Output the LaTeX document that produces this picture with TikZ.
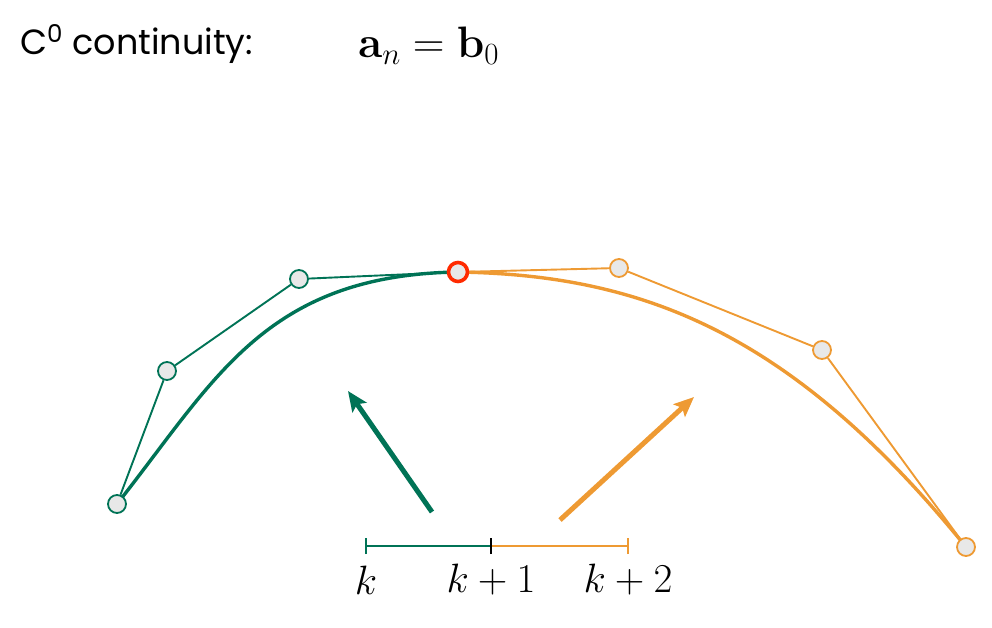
\RequirePackage{fix-cm}
\documentclass[tikz,border=0pt]{standalone}
\usepackage{amsmath}
\usepackage[no-math]{fontspec}
\setmainfont{Poppins}
\usetikzlibrary{arrows.meta,backgrounds}
\definecolor{sgrn}{HTML}{007356}
\definecolor{sorg}{HTML}{EE9A33}
\definecolor{sred}{HTML}{FF2A00}
\tikzset{
  cpt/.style   ={circle,inner sep=0pt,minimum size=18pt,fill=black!9,line width=1.8pt},
  joint/.style ={circle,inner sep=0pt,minimum size=19pt,fill=black!9,draw=sred,line width=3.6pt},
  poly/.style  ={line width=1.9pt},
  crv/.style   ={line width=3.4pt},
  dir/.style   ={-{Stealth[length=20pt,width=17pt,inset=4pt]},line width=5pt},
  tick/.style  ={line width=1.6pt},
  lbl/.style   ={font=\fontsize{41}{48}\selectfont,inner sep=0pt},
}
\begin{document}
\begin{tikzpicture}[x=1pt,y=-1pt]
  \useasboundingbox (0,0) rectangle (992,627);
  % title
  \node[lbl,anchor=west,font=\fontsize{35}{42}\selectfont] (ttl) at (20,44) {C\textsuperscript{0} continuity:};
  \node[lbl,anchor=west,font=\fontsize{44}{50}\selectfont] (eq) at (358,46) {$\mathbf{a}_n=\mathbf{b}_0$};
  % control points
  \node[cpt,draw=sgrn] (a0) at (117,504) {};
  \node[cpt,draw=sgrn] (a1) at (167,371) {};
  \node[cpt,draw=sgrn] (a2) at (299,279) {};
  \node[joint] (a3) at (458,272) {};
  \node[cpt,draw=sorg] (b1) at (619,268) {};
  \node[cpt,draw=sorg] (b2) at (822,350) {};
  \node[cpt,draw=sorg] (b3) at (966,547) {};
  \begin{scope}[on background layer]
    \draw[poly,sgrn] (a0) -- (a1) -- (a2) -- (a3);
    \draw[poly,sorg] (a3) -- (b1) -- (b2) -- (b3);
    \draw[crv,sgrn] (a0.center) .. controls (215,380) and (265,275) .. (a3.center);
    \draw[crv,sorg] (a3.center) .. controls (640,275) and (790,330) .. (b3.center);
  \end{scope}
  % direction arrows
  \coordinate (g0) at (432,512); \coordinate (g1) at (348,391);
  \coordinate (o0) at (560,520); \coordinate (o1) at (694,397);
  \draw[dir,sgrn] (g0) -- (g1);
  \draw[dir,sorg] (o0) -- (o1);
  % knot interval
  \coordinate (k0) at (366,546); \coordinate (k1) at (491,546); \coordinate (k2) at (628,546);
  \draw[tick,sgrn] (k0) -- (k1);
  \draw[tick,sorg] (k1) -- (k2);
  \draw[tick,sgrn,line width=2pt] ([yshift=-8]k0) -- ([yshift=8]k0);
  \draw[tick,black,line width=2pt] ([yshift=-8]k1) -- ([yshift=8]k1);
  \draw[tick,sorg,line width=2pt] ([yshift=-8]k2) -- ([yshift=8]k2);
  \node[lbl] (t0) at (366,580) {$k$};
  \node[lbl] (t1) at (491,580) {$k+1$};
  \node[lbl] (t2) at (628,580) {$k+2$};
\end{tikzpicture}
\end{document}
